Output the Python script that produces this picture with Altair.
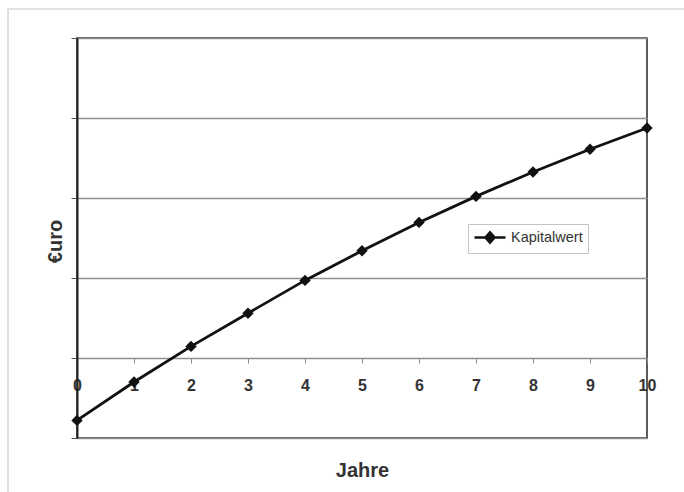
import altair as alt
import pandas as pd

# ---- data ----
jahre = [0, 1, 2, 3, 4, 5, 6, 7, 8, 9, 10]
kapitalwert = [-0.78, -0.30, 0.145, 0.56, 0.97, 1.34, 1.695, 2.02, 2.325, 2.61, 2.875]
x_ticks = [0, 1, 2, 3, 4, 5, 6, 7, 8, 9, 10]
y_ticks = [-1, 0, 1, 2, 3, 4]
series_name = "Kapitalwert"

df = pd.DataFrame({"Jahre": jahre, "Wert": kapitalwert,
                   "Reihe": [series_name] * len(jahre)})
frame_df = pd.DataFrame({"k": [0]})

FONT = "Liberation Sans"

x_enc = alt.X(
    "Jahre:Q",
    scale=alt.Scale(domain=[0, 10], nice=False, zero=False),
    axis=alt.Axis(
        values=x_ticks, format="d", offset=-80, domain=False, grid=False,
        tickSize=5, tickColor="#8a8a8a", tickWidth=1,
        labelFont=FONT, labelFontSize=16, labelFontWeight="bold", labelColor="#333333",
        labelBaseline="alphabetic", labelPadding=27, labelFlush=False, labelOverlap=False,
        title="Jahre", titleFont=FONT, titleFontSize=20, titleFontWeight="bold",
        titleColor="#333333", titleX=285, titleY=118, titleBaseline="alphabetic",
        titleAlign="center",
    ),
)
y_enc = alt.Y(
    "Wert:Q",
    scale=alt.Scale(domain=[-1, 4], nice=False, zero=False),
    axis=alt.Axis(
        values=y_ticks, labels=False, domain=True, domainColor="#222222", domainWidth=2,
        ticks=True, tickSize=6, tickColor="#555555", tickWidth=1,
        grid=True, gridColor="#8f8f8f", gridWidth=1.3,
        title="€uro", titleFont=FONT, titleFontSize=20, titleFontWeight="bold",
        titleColor="#333333", titleX=-16, titleY=203, titleAngle=270,
        titleBaseline="alphabetic", titleAlign="center",
    ),
)
color_enc = alt.Color(
    "Reihe:N",
    scale=alt.Scale(domain=[series_name], range=["#111111"]),
    legend=alt.Legend(
        title=None, orient="none", legendX=391, legendY=186,
        symbolType="M-1,0L3.43,0M1.214,-0.72L1.86,0L1.214,0.72L0.57,0Z",
        symbolSize=196, symbolStrokeWidth=2.6, symbolFillColor="#111111",
        symbolStrokeColor="#111111",
        labelFont=FONT, labelFontSize=14.5, labelColor="#333333", labelOffset=21,
        padding=5, strokeColor="#c4c4c4", fillColor="white",
    ),
)

frame = alt.Chart(frame_df).mark_rect(fillOpacity=0, stroke="#c8c8c8", strokeWidth=1.2).encode(
    x=alt.value(-69), x2=alt.value(720), y=alt.value(-29), y2=alt.value(520)
)

line = alt.Chart(df).mark_line(strokeWidth=2.8).encode(x=x_enc, y=y_enc, color=color_enc)
points = alt.Chart(df).mark_point(shape="diamond", filled=True, size=130, opacity=1).encode(
    x="Jahre:Q", y="Wert:Q", color=alt.Color("Reihe:N")
)

chart = alt.layer(frame, line, points).properties(
    width=570, height=400,
    autosize=alt.AutoSizeParams(type="none"),
    padding={"left": 77, "top": 38, "right": 37, "bottom": 54},
    background="white",
).configure_view(stroke="#333333", strokeWidth=1.6)

chart.save("out.html", embed_options={"renderer": "svg", "actions": False})
